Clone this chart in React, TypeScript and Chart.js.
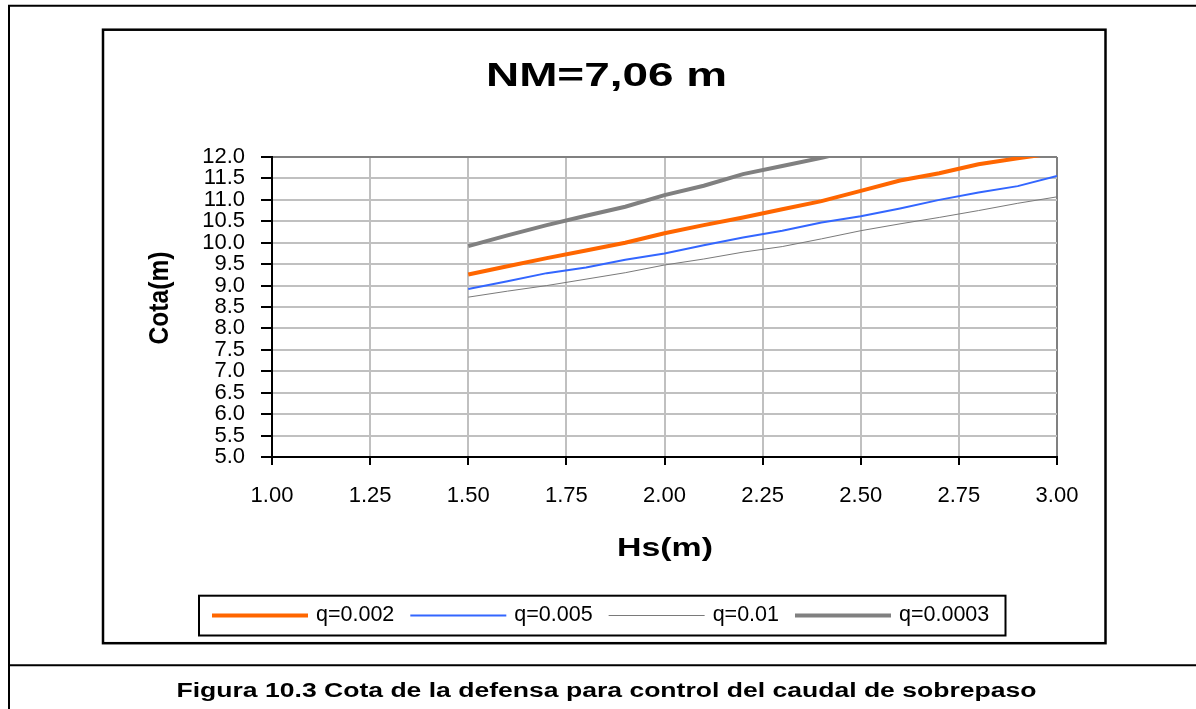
import React, { useEffect, useRef } from 'react';
import { Chart, registerables } from 'chart.js';

Chart.register(...registerables);

// ---- Data ----
const hsValues = [1.5, 1.6, 1.7, 1.8, 1.9, 2.0, 2.1, 2.2, 2.3, 2.4, 2.5, 2.6, 2.7, 2.8, 2.9, 3.0];
const q002 = [9.26, 9.45, 9.64, 9.82, 10.0, 10.22, 10.41, 10.59, 10.78, 10.97, 11.21, 11.45, 11.62, 11.83, 11.97, 12.1];
const q005 = [8.92, 9.1, 9.29, 9.42, 9.6, 9.75, 9.94, 10.12, 10.28, 10.47, 10.62, 10.8, 11.0, 11.17, 11.32, 11.56];
const q001 = [8.73, 8.87, 9.0, 9.15, 9.3, 9.48, 9.62, 9.78, 9.91, 10.09, 10.28, 10.44, 10.59, 10.75, 10.92, 11.07];
const q0003 = [9.92, 10.17, 10.41, 10.63, 10.84, 11.11, 11.33, 11.6, 11.79, 11.98, 12.2];
const seriesLabels = ['q=0.002', 'q=0.005', 'q=0.01', 'q=0.0003'];
const chartTitle = 'NM=7,06 m';
const xTitle = 'Hs(m)';
const yTitle = 'Cota(m)';
const caption = 'Figura 10.3 Cota de la defensa para control del caudal de sobrepaso';

const FONT = '"Liberation Sans", Arial, Helvetica, sans-serif';

const toPoints = (ys: number[]) => ys.map((y, i) => ({ x: hsValues[i], y }));

function drawFit(ctx: CanvasRenderingContext2D, text: string, cx: number, y: number, font: string, targetWidth: number, baseline: CanvasTextBaseline = 'alphabetic') {
  ctx.save();
  ctx.font = font;
  ctx.fillStyle = '#000';
  ctx.textAlign = 'center';
  ctx.textBaseline = baseline;
  const w = ctx.measureText(text).width;
  const sx = targetWidth / w;
  ctx.translate(cx, y);
  ctx.scale(sx, 1);
  ctx.fillText(text, 0, 0);
  ctx.restore();
}

const framePlugin = {
  id: 'framePlugin',
  beforeDraw(chart: any) {
    const ctx: CanvasRenderingContext2D = chart.ctx;
    ctx.save();
    ctx.fillStyle = '#fff';
    ctx.fillRect(0, 0, chart.width, chart.height);
    ctx.strokeStyle = '#000';
    ctx.lineWidth = 2;
    ctx.beginPath();
    ctx.moveTo(9, 709);
    ctx.lineTo(9, 5.7);
    ctx.lineTo(1196, 5.7);
    ctx.moveTo(8, 665.3);
    ctx.lineTo(1196, 665.3);
    ctx.stroke();
    ctx.lineWidth = 2.5;
    ctx.strokeRect(103, 29.7, 1002.5, 613.5);
    ctx.restore();
  },
  afterDraw(chart: any) {
    const ctx: CanvasRenderingContext2D = chart.ctx;
    // chart title
    drawFit(ctx, chartTitle, 606.5, 86, `bold 34px ${FONT}`, 241);
    // x axis title
    drawFit(ctx, xTitle, 665, 549, `bold 26px ${FONT}`, 96, 'middle');
    // y axis title
    ctx.save();
    ctx.font = `bold 25px ${FONT}`;
    ctx.fillStyle = '#000';
    ctx.textAlign = 'center';
    ctx.textBaseline = 'middle';
    ctx.translate(160.5, 298);
    ctx.rotate(-Math.PI / 2);
    const tw = ctx.measureText(yTitle).width;
    ctx.scale(93 / tw, 1.1);
    ctx.fillText(yTitle, 0, 0);
    ctx.restore();
    // caption
    drawFit(ctx, caption, 606.5, 697, `bold 20px ${FONT}`, 860);

    // legend
    ctx.save();
    ctx.strokeStyle = '#000';
    ctx.lineWidth = 2;
    ctx.strokeRect(199, 595.7, 806.5, 39.8);
    ctx.font = `21.5px ${FONT}`;
    ctx.textBaseline = 'middle';
    ctx.textAlign = 'left';
    const ly = 615.5;
    let x = 212;
    chart.data.datasets.forEach((ds: any) => {
      ctx.beginPath();
      ctx.strokeStyle = ds.borderColor;
      ctx.lineWidth = ds.borderWidth;
      ctx.moveTo(x, ly);
      ctx.lineTo(x + 96, ly);
      ctx.stroke();
      ctx.fillStyle = '#000';
      ctx.fillText(ds.label, x + 104, ly);
      x += 104 + ctx.measureText(ds.label).width + 16;
    });
    ctx.restore();
  },
};

export default function App() {
  const canvasRef = useRef<HTMLCanvasElement | null>(null);

  useEffect(() => {
    if (!canvasRef.current) return;
    const chart = new Chart(canvasRef.current, {
      type: 'line',
      data: {
        datasets: [
          { label: seriesLabels[0], data: toPoints(q002), borderColor: '#FF6600', borderWidth: 4, pointRadius: 0, tension: 0, clip: 0 },
          { label: seriesLabels[1], data: toPoints(q005), borderColor: '#3366FF', borderWidth: 2, pointRadius: 0, tension: 0, clip: 0 },
          { label: seriesLabels[2], data: toPoints(q001), borderColor: '#7a7a7a', borderWidth: 1, pointRadius: 0, tension: 0, clip: 0 },
          { label: seriesLabels[3], data: toPoints(q0003), borderColor: '#808080', borderWidth: 4, pointRadius: 0, tension: 0, clip: 0 },
        ] as any,
      },
      options: {
        animation: false,
        responsive: false,
        maintainAspectRatio: false,
        layout: { padding: { left: 102, right: 139, top: 157, bottom: 192 } },
        plugins: {
          legend: { display: false },
          title: { display: false },
          tooltip: { enabled: false },
        },
        scales: {
          x: {
            type: 'linear',
            min: 1,
            max: 3,
            afterFit: (scale: any) => { scale.height = 60; },
            ticks: {
              stepSize: 0.25,
              autoSkip: false,
              maxRotation: 0,
              padding: 18,
              color: '#000',
              font: { family: FONT, size: 22 },
              callback: (v: any) => Number(v).toFixed(2),
            },
            grid: {
              color: (c: any) => (c.tick && c.tick.value === 3 ? '#808080' : '#c0c0c0'),
              lineWidth: 2,
              tickLength: 8,
              tickColor: '#000',
              tickWidth: 2,
            },
            border: { color: '#000', width: 2 },
          },
          y: {
            type: 'linear',
            min: 5,
            max: 12,
            afterFit: (scale: any) => { scale.width = 170; },
            ticks: {
              stepSize: 0.5,
              autoSkip: false,
              padding: 16,
              color: '#000',
              font: { family: FONT, size: 22 },
              callback: (v: any) => Number(v).toFixed(1),
            },
            grid: {
              color: (c: any) => (c.tick && c.tick.value === 12 ? '#808080' : '#c0c0c0'),
              lineWidth: 2,
              tickLength: 11,
              tickColor: '#000',
              tickWidth: 2,
            },
            border: { color: '#000', width: 2 },
          },
        },
      },
      plugins: [framePlugin],
    } as any);
    return () => chart.destroy();
  }, []);

  return (
    <div style={{ position: 'absolute', left: 0, top: 0, width: 1196, height: 709 }}>
      <canvas ref={canvasRef} width={1196} height={709} style={{ display: 'block' }} />
    </div>
  );
}
